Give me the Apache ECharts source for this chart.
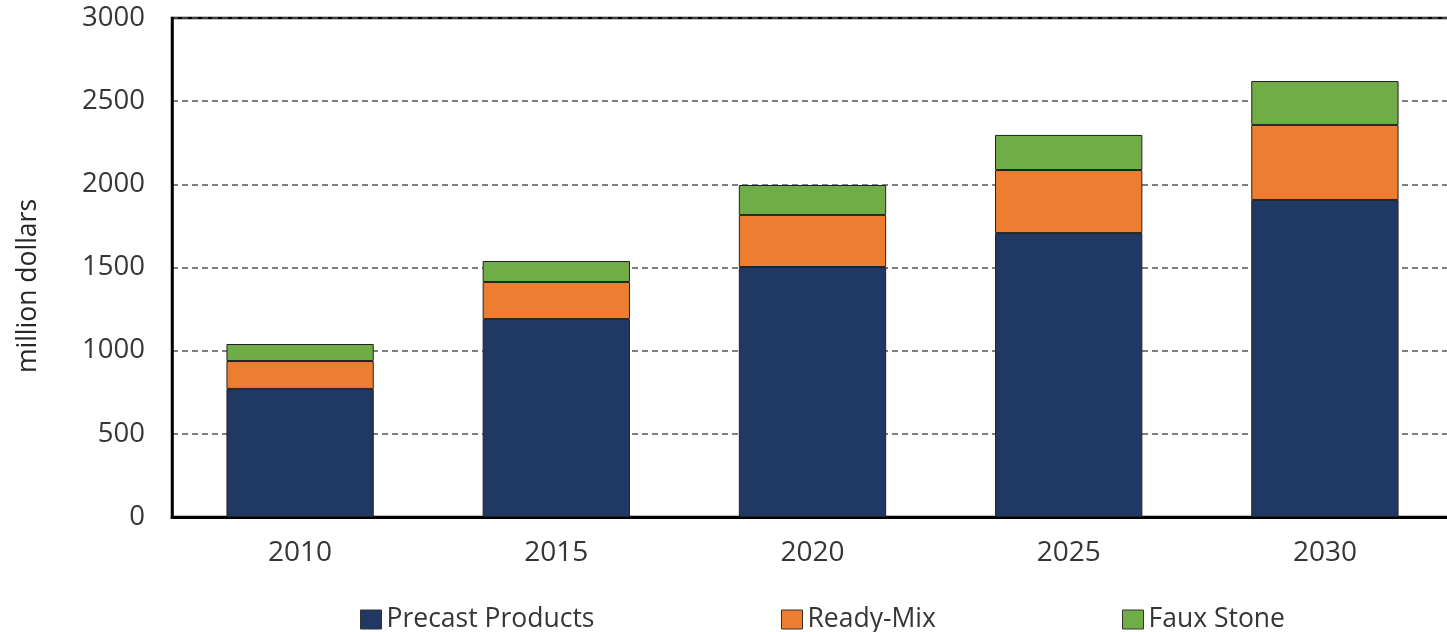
<!DOCTYPE html>
<html>
<head>
<meta charset="utf-8">
<script src="https://cdn.jsdelivr.net/npm/echarts@6/dist/echarts.min.js"></script>
<style>
  html, body { margin: 0; padding: 0; background: #fff; overflow: hidden; }
  #chart { width: 1460px; height: 632px; }
</style>
</head>
<body>
<div id="chart"></div>
<script>
const years = ['2010', '2015', '2020', '2025', '2030'];
const precast = [770, 1190, 1503, 1707, 1906];
const readyMix = [168, 223, 313, 379, 451];
const fauxStone = [102, 126, 180, 211, 264];
const seriesNames = ['Precast Products', 'Ready-Mix', 'Faux Stone'];
const colors = ['#1f3864', '#ed7d31', '#70ad47'];

const font = '"Open Sans", sans-serif';
const textColor = '#363636';
const chart = echarts.init(document.getElementById('chart'));

// one legend per series so each entry sits where the original puts it
const legendLeft = [355, 776, 1117];
const legends = seriesNames.map((name, i) => ({
    data: [name],
    left: legendLeft[i],
    top: 601,
    itemWidth: 21,
    itemHeight: 19,
    itemGap: 5,
    icon: 'rect',
    itemStyle: { borderColor: '#333', borderWidth: 1 },
    textStyle: { fontFamily: font, fontSize: 26.5, color: textColor },
    selectedMode: false
}));

const makeSeries = (name, values, i) => ({
    name,
    type: 'bar',
    stack: 'total',
    barWidth: '57.5%',
    data: values,
    itemStyle: { color: colors[i], borderColor: '#222', borderWidth: 1 }
});

chart.setOption({
    animation: false,
    grid: {
        left: 172,
        top: 18,
        width: 1281,
        height: 499,
        show: true,
        borderColor: '#000',
        borderWidth: 2.5
    },
    legend: legends,
    graphic: [{
        type: 'text',
        x: 28,
        y: 286,
        rotation: Math.PI / 2,
        style: {
            text: 'million dollars',
            font: '26.5px "Open Sans", sans-serif',
            fill: '#262626',
            align: 'center',
            verticalAlign: 'middle'
        }
    }],
    xAxis: {
        type: 'category',
        data: years,
        axisLine: { lineStyle: { color: '#000', width: 3 } },
        axisTick: { show: false },
        axisLabel: { fontFamily: font, fontSize: 28, color: textColor, margin: 22 }
    },
    yAxis: {
        type: 'value',
        min: 0,
        max: 3000,
        interval: 500,
        axisLine: { show: true, lineStyle: { color: '#000', width: 2.5 } },
        axisTick: { show: false },
        axisLabel: {
            fontFamily: font,
            fontSize: 27.5,
            color: textColor,
            margin: 27,
            formatter: (v) => String(v)
        },
        splitLine: { lineStyle: { color: '#555', type: [6, 4], width: 1.5 } }
    },
    series: [
        makeSeries(seriesNames[0], precast, 0),
        makeSeries(seriesNames[1], readyMix, 1),
        makeSeries(seriesNames[2], fauxStone, 2)
    ]
});
</script>
</body>
</html>
